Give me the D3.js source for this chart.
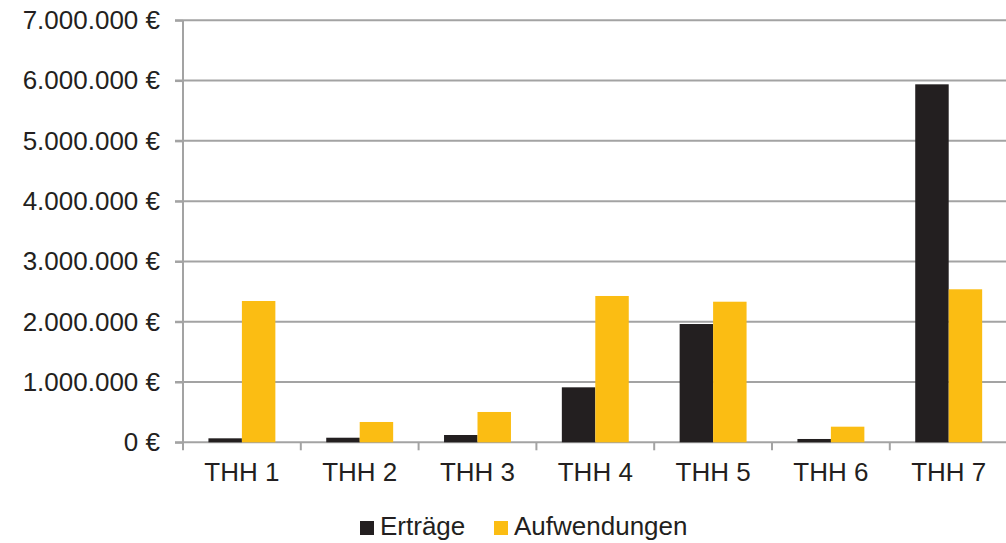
<!DOCTYPE html>
<html>
<head>
<meta charset="utf-8">
<script src="https://cdn.jsdelivr.net/npm/d3@7.9.0/dist/d3.min.js"></script>
<style>
  html, body { margin: 0; padding: 0; background: #fff; }
  svg { display: block; font-family: "Liberation Sans", Arial, sans-serif; }
</style>
</head>
<body>
<svg id="chart" width="1006" height="543"></svg>
<script>
const categories = ['THH 1', 'THH 2', 'THH 3', 'THH 4', 'THH 5', 'THH 6', 'THH 7'];
const ertraege = [66000, 76000, 121000, 912000, 1962000, 55000, 5938000];
const aufwendungen = [2344000, 337000, 503000, 2427000, 2332000, 259000, 2538000];
const seriesNames = ['Erträge', 'Aufwendungen'];
const seriesColors = ['#231f20', '#fbbd13'];
const yTicks = [0, 1000000, 2000000, 3000000, 4000000, 5000000, 6000000, 7000000];

const width = 1006;
const height = 543;
const margin = { top: 20.3, right: -1.6, bottom: 100.7, left: 183 };

const svg = d3.select('#chart');

const x = d3.scaleBand()
  .domain(categories)
  .range([margin.left, width - margin.right])
  .paddingInner(0)
  .paddingOuter(0);

const y = d3.scaleLinear()
  .domain([0, 7000000])
  .range([height - margin.bottom, margin.top]);

const xSub = d3.scaleBand()
  .domain(seriesNames)
  .range([0, x.bandwidth()])
  .paddingOuter(0.76)
  .paddingInner(0);

const fmt = (v) => d3.format(',')(v).replace(/,/g, '.') + ' €';

// gridlines
const grid = svg.append('g');
grid.selectAll('line')
  .data(yTicks)
  .join('line')
  .attr('x1', margin.left - 8)
  .attr('x2', width)
  .attr('y1', (d) => y(d))
  .attr('y2', (d) => y(d))
  .attr('stroke', '#a3a3a3')
  .attr('stroke-width', 2);

// bars
const table = categories.map((c, i) => ({ cat: c, vals: [ertraege[i], aufwendungen[i]] }));
const groups = svg.append('g')
  .selectAll('g')
  .data(table)
  .join('g')
  .attr('transform', (d) => `translate(${x(d.cat)},0)`);

groups.selectAll('rect')
  .data((d) => d.vals.map((v, j) => ({ name: seriesNames[j], v, j })))
  .join('rect')
  .attr('x', (d) => xSub(d.name))
  .attr('width', xSub.bandwidth())
  .attr('y', (d) => y(d.v))
  .attr('height', (d) => y(0) - y(d.v))
  .attr('fill', (d) => seriesColors[d.j]);

// y axis
const yAxis = d3.axisLeft(y)
  .tickValues(yTicks)
  .tickFormat(fmt)
  .tickSize(8)
  .tickPadding(15);

const gy = svg.append('g')
  .attr('transform', `translate(${margin.left},0)`)
  .call(yAxis);
gy.select('.domain').remove();
gy.selectAll('.tick line').attr('stroke', '#a3a3a3').attr('stroke-width', 2);
gy.selectAll('text')
  .attr('font-size', 26)
  .attr('fill', '#231f20');

svg.append('line')
  .attr('x1', margin.left)
  .attr('x2', margin.left)
  .attr('y1', y(7000000))
  .attr('y2', y(0) + 8)
  .attr('stroke', '#a3a3a3')
  .attr('stroke-width', 2);

// x axis
const xAxis = d3.axisBottom(x).tickSize(0).tickPadding(20);
const gx = svg.append('g')
  .attr('transform', `translate(0,${y(0)})`)
  .call(xAxis);
gx.select('.domain').remove();
gx.selectAll('text')
  .attr('font-size', 26)
  .attr('fill', '#231f20');

// category separators
svg.append('g')
  .selectAll('line')
  .data(categories.slice(1))
  .join('line')
  .attr('x1', (d) => x(d))
  .attr('x2', (d) => x(d))
  .attr('y1', y(0))
  .attr('y2', y(0) + 8)
  .attr('stroke', '#a3a3a3')
  .attr('stroke-width', 2);

// legend
const legendX = [360, 494];
const legend = svg.append('g')
  .selectAll('g')
  .data(seriesNames)
  .join('g')
  .attr('transform', (d, i) => `translate(${legendX[i]},521)`);

legend.append('rect')
  .attr('width', 14)
  .attr('height', 14)
  .attr('fill', (d, i) => seriesColors[i]);

legend.append('text')
  .attr('x', 20)
  .attr('y', 14)
  .attr('font-size', 26)
  .attr('fill', '#231f20')
  .text((d) => d);
</script>
</body>
</html>
